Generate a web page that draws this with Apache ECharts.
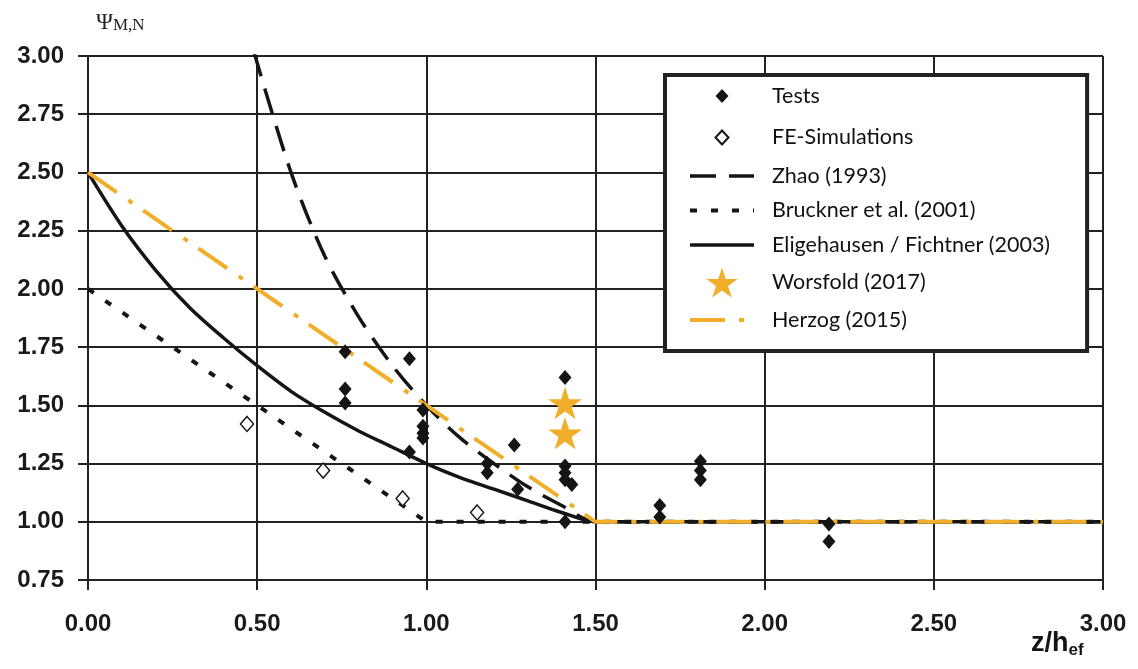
<!DOCTYPE html>
<html>
<head>
<meta charset="utf-8">
<script src="https://cdn.jsdelivr.net/npm/echarts@6/dist/echarts.min.js"></script>
<style>
  html, body { margin: 0; padding: 0; background: #fff; }
  #main { width: 1138px; height: 669px; }
</style>
</head>
<body>
<div id="main"></div>
<script>
// values: [z/hef, psi]
var testsData = [
  [0.76, 1.73], [0.76, 1.57], [0.76, 1.51],
  [0.95, 1.70], [0.95, 1.30],
  [0.99, 1.48], [0.99, 1.41], [0.99, 1.38], [0.99, 1.36],
  [1.18, 1.25], [1.18, 1.21], [1.26, 1.33], [1.27, 1.14],
  [1.41, 1.62], [1.41, 1.24], [1.41, 1.21], [1.41, 1.18], [1.43, 1.16], [1.41, 1.00],
  [1.69, 1.07], [1.69, 1.02],
  [1.81, 1.26], [1.81, 1.22], [1.81, 1.18],
  [2.19, 0.99], [2.19, 0.915]
];
var feData = [[0.47, 1.42], [0.695, 1.22], [0.93, 1.10], [1.15, 1.04]];
var worsfoldData = [[1.41, 1.51], [1.41, 1.38]];
var zhaoData = [
  [0.49, 3.02], [0.6, 2.5], [0.7, 2.14], [0.8, 1.88], [0.9, 1.67], [1.0, 1.5],
  [1.1, 1.36], [1.2, 1.25], [1.3, 1.15], [1.4, 1.07], [1.5, 1.0], [3.0, 1.0]
];
var brucknerData = [[0, 2.0], [1.0, 1.0], [3.0, 1.0]];
var eligehausenData = [
  [0, 2.5], [0.1, 2.27], [0.2, 2.08], [0.3, 1.92], [0.4, 1.79], [0.5, 1.67],
  [0.6, 1.56], [0.7, 1.47], [0.8, 1.39], [0.9, 1.32], [1.0, 1.25], [1.1, 1.19],
  [1.2, 1.14], [1.3, 1.09], [1.4, 1.04], [1.5, 1.0], [3.0, 1.0]
];
var herzogData = [[0, 2.5], [1.5, 1.0], [3.0, 1.0]];

var legendNames = ['Tests', 'FE-Simulations', 'Zhao (1993)', 'Bruckner et al. (2001)',
  'Eligehausen / Fichtner (2003)', 'Worsfold (2017)', 'Herzog (2015)'];

var orange = '#F0AE2B';
var ink = '#151515';
var starPath = 'path://M50,0L61.23,34.55L97.55,34.55L68.17,55.9L79.39,90.45L50,69.1L20.61,90.45L31.83,55.9L2.45,34.55L38.77,34.55Z';
// small diamond inside a 30x30 box so the legend icon stays small
var smallDiamond = 'path://M0,0L0,0ZM30,30L30,30ZM15,8L21.5,15L15,22L8.5,15Z';
// hide the marker that the legend draws on line items
var hiddenMark = { color: 'rgba(0,0,0,0)', borderColor: 'rgba(0,0,0,0)', borderWidth: 0 };

var zhaoLine = { color: ink, width: 3.5, type: [26, 13] };
var brucknerLine = { color: ink, width: 4, type: [7, 14] };
var eligLine = { color: ink, width: 3.5, type: 'solid' };
var herzogLine = { color: orange, width: 4, type: [35, 14, 5, 13] };

var myChart = echarts.init(document.getElementById('main'));

var option = {
  backgroundColor: '#fff',
  animation: false,
  grid: { left: 88, right: 35, top: 56, bottom: 89, containLabel: false, outerBoundsMode: 'none' },
  xAxis: {
    type: 'value',
    min: 0, max: 3, interval: 0.5,
    name: '{a|z/h}{b|ef}',
    nameLocation: 'end',
    nameGap: -72,
    nameMoveOverlap: false,
    nameTextStyle: {
      align: 'left', verticalAlign: 'top', padding: [48, 0, 0, 0],
      rich: {
        a: { fontFamily: 'Liberation Sans', fontWeight: 'bold', fontSize: 27, color: ink },
        b: { fontFamily: 'Liberation Sans', fontWeight: 'bold', fontSize: 17, color: ink, padding: [14, 0, 0, 0] }
      }
    },
    axisLine: { show: true, lineStyle: { color: '#222', width: 2 } },
    axisTick: { show: true, length: 10, lineStyle: { color: '#222', width: 2 } },
    axisLabel: {
      margin: 32, fontFamily: 'Liberation Sans', fontWeight: 'bold', fontSize: 24, color: '#1a1a1a',
      formatter: function (v) { return v.toFixed(2); }
    },
    splitLine: { show: true, lineStyle: { color: '#222', width: 2 } }
  },
  yAxis: {
    type: 'value',
    min: 0.75, max: 3, interval: 0.25,
    name: '{a|Ψ}{b|M,N}',
    nameLocation: 'end',
    nameGap: 22,
    nameTextStyle: {
      align: 'left', padding: [0, 0, 0, 8],
      rich: {
        a: { fontFamily: 'Liberation Serif', fontSize: 23, color: '#222' },
        b: { fontFamily: 'Liberation Serif', fontSize: 17, color: '#222', padding: [6, 0, 0, 0] }
      }
    },
    axisLine: { show: true, lineStyle: { color: '#222', width: 2 } },
    axisTick: { show: true, length: 10, lineStyle: { color: '#222', width: 2 } },
    axisLabel: {
      margin: 24, fontFamily: 'Liberation Sans', fontWeight: 'bold', fontSize: 24, color: '#1a1a1a',
      formatter: function (v) { return v.toFixed(2); }
    },
    splitLine: { show: true, lineStyle: { color: '#222', width: 2 } }
  },
  legend: {
    orient: 'vertical',
    left: 665, top: 75,
    backgroundColor: '#fff',
    borderColor: '#222',
    borderWidth: 4,
    borderRadius: 0,
    padding: [6, 37, 19, 23],
    itemWidth: 64,
    itemHeight: 30,
    itemGap: 10.5,
    textStyle: { fontFamily: 'Lato', fontSize: 21.5, color: '#111', padding: [0, 0, 0, 13] },
    data: [
      { name: legendNames[0], icon: smallDiamond },
      { name: legendNames[1], icon: smallDiamond },
      { name: legendNames[2], lineStyle: zhaoLine, itemStyle: hiddenMark },
      { name: legendNames[3], lineStyle: brucknerLine, itemStyle: hiddenMark },
      { name: legendNames[4], lineStyle: eligLine, itemStyle: hiddenMark },
      { name: legendNames[5], icon: starPath },
      { name: legendNames[6], lineStyle: herzogLine, itemStyle: hiddenMark }
    ]
  },
  series: [
    {
      name: legendNames[3], type: 'line', data: brucknerData, symbol: 'circle', showSymbol: false,
      itemStyle: { color: ink }, lineStyle: brucknerLine, z: 3
    },
    {
      name: legendNames[2], type: 'line', data: zhaoData, symbol: 'circle', showSymbol: false, smooth: 0.3,
      itemStyle: { color: ink }, lineStyle: zhaoLine, z: 3
    },
    {
      name: legendNames[4], type: 'line', data: eligehausenData, symbol: 'circle', showSymbol: false, smooth: 0.3,
      itemStyle: { color: ink }, lineStyle: eligLine, z: 4
    },
    {
      name: legendNames[6], type: 'line', data: herzogData, symbol: 'circle', showSymbol: false,
      itemStyle: { color: orange }, lineStyle: herzogLine, z: 5
    },
    {
      name: legendNames[1], type: 'scatter', data: feData,
      symbol: 'diamond', symbolSize: [13, 15],
      itemStyle: { color: '#fff', borderColor: ink, borderWidth: 1.5, opacity: 1 }, z: 6
    },
    {
      name: legendNames[0], type: 'scatter', data: testsData,
      symbol: 'diamond', symbolSize: [13, 15],
      itemStyle: { color: ink, opacity: 1 }, z: 6
    },
    {
      name: legendNames[5], type: 'scatter', data: worsfoldData,
      symbol: starPath, symbolSize: 34, symbolKeepAspect: true,
      itemStyle: { color: orange, opacity: 1 }, z: 7
    }
  ]
};

myChart.setOption(option);
</script>
</body>
</html>
